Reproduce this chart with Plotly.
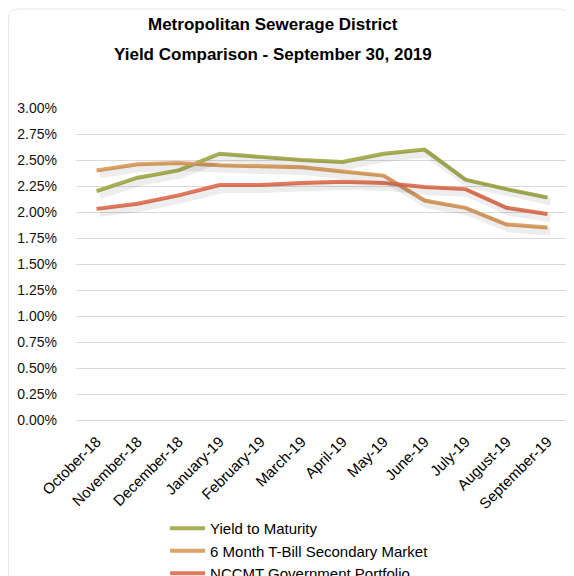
import plotly.graph_objects as go

months = ["October-18", "November-18", "December-18", "January-19", "February-19", "March-19",
          "April-19", "May-19", "June-19", "July-19", "August-19", "September-19"]
ytm = [2.20, 2.33, 2.40, 2.56, 2.53, 2.50, 2.48, 2.56, 2.60, 2.31, 2.22, 2.14]
tbill = [2.40, 2.46, 2.47, 2.45, 2.44, 2.43, 2.39, 2.35, 2.11, 2.04, 1.88, 1.85]
nccmt = [2.03, 2.08, 2.16, 2.26, 2.26, 2.28, 2.29, 2.28, 2.24, 2.22, 2.04, 1.98]
series_names = ["Yield to Maturity", "6 Month T-Bill Secondary Market", "NCCMT Government Portfolio"]
colors = ["#A9AF55", "#DCA266", "#E2795C"]
yticks = [0.0, 0.25, 0.5, 0.75, 1.0, 1.25, 1.5, 1.75, 2.0, 2.25, 2.5, 2.75, 3.0]
ytick_text = [f"{v:.2f}%" for v in yticks]
title_lines = ["Metropolitan Sewerage District", "Yield Comparison - September 30, 2019"]

fig = go.Figure()
n = len(months)
# soft shadows drawn on slightly offset overlay axes
for vals in (ytm, tbill, nccmt):
    fig.add_trace(go.Scatter(x=list(range(n)), y=vals, mode="lines", xaxis="x2", yaxis="y2",
                             line=dict(color="rgba(0,0,0,0.07)", width=8), showlegend=False,
                             hoverinfo="skip"))
for name, vals, c in zip(series_names, (ytm, tbill, nccmt), colors):
    fig.add_trace(go.Scatter(x=months, y=vals, mode="lines", name=name,
                             line=dict(color=c, width=4)))

PW, PH = 492.0, 312.0
px_x = 12 / PW
px_y = 3.0 / PH

# rounded chart border (paper coords)
Lx, Rx, Ty, By = -0.1372, 1.002, 1.3173, -0.6026
dx, dy = 10 / PW, 10 / PH
border = (f"M {Lx},{By} L {Lx},{Ty - dy} Q {Lx},{Ty} {Lx + dx},{Ty} "
          f"L {Rx - dx},{Ty} Q {Rx},{Ty} {Rx},{Ty - dy} L {Rx},{By}")

font_family = "Liberation Sans Narrow, Arial Narrow, Liberation Sans, Arial"
fig.update_layout(
    width=574, height=576,
    margin=dict(l=68, r=14, t=100, b=164, autoexpand=False),
    paper_bgcolor="white", plot_bgcolor="white",
    font=dict(family=font_family, color="#000000"),
    xaxis=dict(type="category", range=[-0.5, 11.5], showgrid=False, showline=False, ticks="",
               tickangle=-45, tickfont=dict(size=15), zeroline=False, automargin=False,
               ticklabelstandoff=9),
    xaxis2=dict(range=[-0.5 - 3 * px_x, 11.5 - 3 * px_x], overlaying="x", visible=False),
    yaxis=dict(range=[0, 3.0], tickvals=yticks, ticktext=ytick_text,
               showgrid=True, gridcolor="#D9D9D9", gridwidth=1, zeroline=True,
               zerolinecolor="#D9D9D9", zerolinewidth=1, tickfont=dict(size=14, color="#111111"),
               ticklabelstandoff=18, automargin=False),
    yaxis2=dict(range=[0 + 4 * px_y, 3.0 + 4 * px_y], overlaying="y", visible=False),
    legend=dict(orientation="v", x=0.181, xanchor="left", y=-0.2946, yanchor="top",
                font=dict(size=15), tracegroupgap=0, itemwidth=35,
                bgcolor="rgba(0,0,0,0)"),
    showlegend=True,
    annotations=[
        dict(text="<b>" + title_lines[0] + "</b>", xref="paper", yref="paper", x=0.40, y=1.268,
             xanchor="center", yanchor="middle", showarrow=False, font=dict(size=17)),
        dict(text="<b>" + title_lines[1] + "</b>", xref="paper", yref="paper", x=0.40, y=1.172,
             xanchor="center", yanchor="middle", showarrow=False, font=dict(size=17)),
    ],
    shapes=[dict(type="path", xref="paper", yref="paper", path=border,
                 line=dict(color="#E6E6E6", width=1), layer="below")],
)
fig.write_html("out.html")
